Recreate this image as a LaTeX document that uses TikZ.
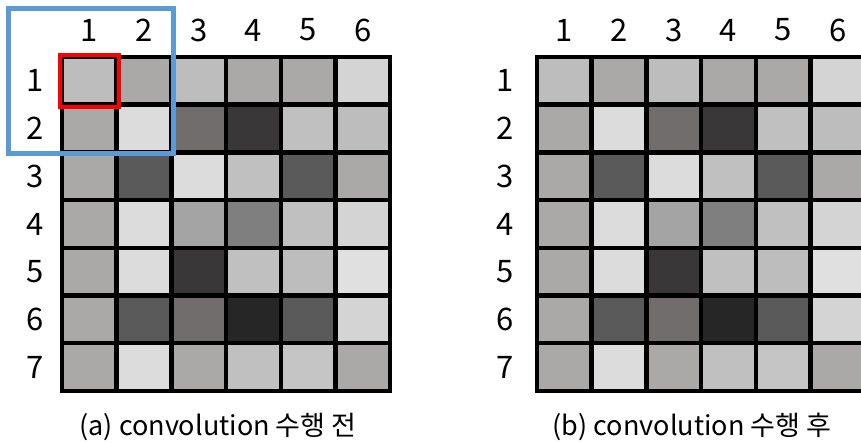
\documentclass[tikz,border=0pt]{standalone}
\usepackage{fontspec}
\setmainfont{Noto Sans CJK KR}
\usetikzlibrary{positioning,calc}

\definecolor{gA}{HTML}{BDBDBD}
\definecolor{gB}{HTML}{ABA8A8}
\definecolor{gC}{HTML}{D4D4D4}
\definecolor{gD}{HTML}{DCDCDC}
\definecolor{gE}{HTML}{716D6D}
\definecolor{gF}{HTML}{393737}
\definecolor{gG}{HTML}{C0C0C0}
\definecolor{gH}{HTML}{5A5A5A}
\definecolor{gI}{HTML}{A4A4A4}
\definecolor{gJ}{HTML}{7F7F7F}
\definecolor{gK}{HTML}{262626}
\definecolor{gL}{HTML}{E0E0E0}
\definecolor{gM}{HTML}{C5C5C5}
\definecolor{kernblue}{HTML}{5B9BD5}

\begin{document}
\begin{tikzpicture}[x=1pt, y=-1pt]
\tikzset{
  cellc/.style={draw=black, line width=4.5pt, minimum width=54.7pt, minimum height=47.7pt, inner sep=0pt},
  idx/.style={font=\fontsize{31}{33}\selectfont, inner sep=0pt},
  captext/.style={font=\fontsize{27}{30}\selectfont, inner sep=0pt},
  selbox/.style={draw=red, line width=4pt},
  kernbox/.style={draw=kernblue, line width=5pt}
}
\useasboundingbox (0,0) rectangle (861,443);
\clip (0,0) rectangle (861,443);
% two 7x6 grids, before / after
\foreach \gx/\gn/\lx in {62/L/35, 537/R/505} {
  \foreach \row [count=\r] in {{gA,gB,gA,gB,gB,gC},{gB,gD,gE,gF,gG,gA},{gB,gH,gD,gG,gH,gB},
      {gB,gD,gI,gJ,gG,gC},{gB,gD,gF,gG,gA,gL},{gB,gH,gE,gK,gH,gC},{gB,gD,gB,gG,gM,gB}} {
    \foreach \c [count=\k] in \row
      \node[cellc, fill=\c] (cell\gn-\r-\k) at ({\gx+54.7*(\k-0.5)}, {57+47.7*(\r-0.5)}) {};
    \node[idx] (row\gn-\r) at (\lx, {57+47.7*(\r-0.5)}) {\r};
  }
  \foreach \k in {1,...,6}
    \node[idx] (col\gn-\k) at ({\gx+54.7*(\k-0.5)}, 30) {\k};
}
% kernel window and current cell
\draw[kernbox] ($(cellL-1-1.north west)+(-51,-46)$) rectangle ($(cellL-2-2.south east)+(0,-1)$);
\draw[selbox] (cellL-1-1.north west) rectangle (cellL-1-1.south east);
\node[captext] (capL) at (218, 427) {(a) convolution 수행 전};
\node[captext] (capR) at (692, 427) {(b) convolution 수행 후};
\end{tikzpicture}
\end{document}
